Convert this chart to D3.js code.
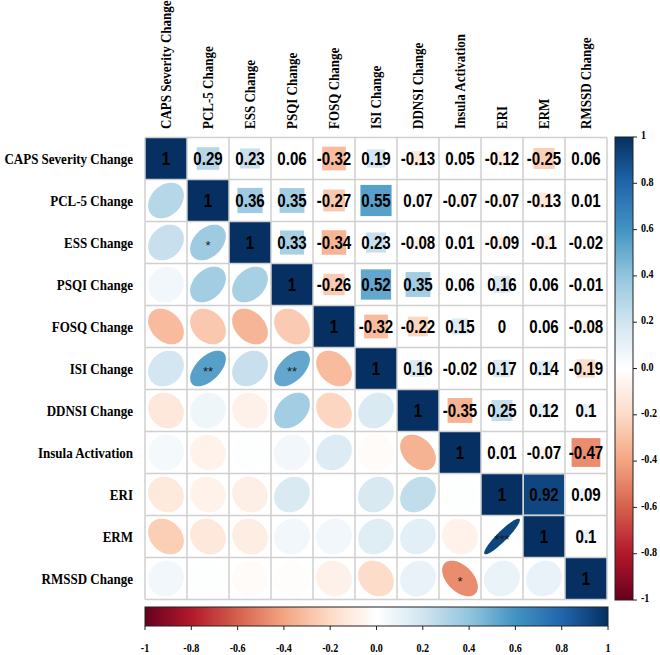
<!DOCTYPE html>
<html>
<head>
<meta charset="utf-8">
<script src="https://cdn.jsdelivr.net/npm/d3@7"></script>
<style>
  html, body { margin: 0; padding: 0; background: #fff; }
  svg { display: block; }
</style>
</head>
<body>
<svg id="chart" width="660" height="655"></svg>
<script>
// ---------- data ----------
const variables = [
  "CAPS Severity Change", "PCL-5 Change", "ESS Change", "PSQI Change",
  "FOSQ Change", "ISI Change", "DDNSI Change", "Insula Activation",
  "ERI", "ERM", "RMSSD Change"
];
// upper triangle rows (from the diagonal to the right)
const rowCAPS   = [1, 0.29, 0.23, 0.06, -0.32, 0.19, -0.13, 0.05, -0.12, -0.25, 0.06];
const rowPCL5   = [1, 0.36, 0.35, -0.27, 0.55, 0.07, -0.07, -0.07, -0.13, 0.01];
const rowESS    = [1, 0.33, -0.34, 0.23, -0.08, 0.01, -0.09, -0.1, -0.02];
const rowPSQI   = [1, -0.26, 0.52, 0.35, 0.06, 0.16, 0.06, -0.01];
const rowFOSQ   = [1, -0.32, -0.22, 0.15, 0, 0.06, -0.08];
const rowISI    = [1, 0.16, -0.02, 0.17, 0.14, -0.19];
const rowDDNSI  = [1, -0.35, 0.25, 0.12, 0.1];
const rowInsula = [1, 0.01, -0.07, -0.47];
const rowERI    = [1, 0.92, 0.09];
const rowERM    = [1, 0.1];
const rowRMSSD  = [1];
const upperRows = [rowCAPS, rowPCL5, rowESS, rowPSQI, rowFOSQ, rowISI,
                   rowDDNSI, rowInsula, rowERI, rowERM, rowRMSSD];
// significance marks in the lower triangle: [row, column, stars]
const significance = [
  ["ESS Change", "PCL-5 Change", "*"],
  ["ISI Change", "PCL-5 Change", "**"],
  ["ISI Change", "PSQI Change", "**"],
  ["ERM", "ERI", "***"],
  ["RMSSD Change", "Insula Activation", "*"]
];
const colorStops = ["#67001F", "#B2182B", "#D6604D", "#F4A582", "#FDDBC7",
                    "#FFFFFF", "#D1E5F0", "#92C5DE", "#4393C3", "#2166AC", "#053061"];
const legendTicks = [-1, -0.8, -0.6, -0.4, -0.2, 0, 0.2, 0.4, 0.6, 0.8, 1];
const legendTickLabels = ["-1", "-0.8", "-0.6", "-0.4", "-0.2", "0.0", "0.2", "0.4", "0.6", "0.8", "1"];

// ---------- build matrix ----------
const n = variables.length;
const M = variables.map(() => new Array(n).fill(0));
upperRows.forEach((row, i) => row.forEach((v, k) => { M[i][i + k] = v; M[i + k][i] = v; }));
const cells = [];
for (let i = 0; i < n; i++) for (let j = 0; j < n; j++)
  cells.push({ row: variables[i], col: variables[j], i, j, r: M[i][j] });

// ---------- scales ----------
const svg = d3.select("#chart");
const x = d3.scaleBand().domain(variables).range([145, 607]);
const y = d3.scaleBand().domain(variables).range([137.5, 599.5]);
const bw = x.bandwidth(), bh = y.bandwidth();
const color = d3.scaleLinear()
  .domain(d3.range(colorStops.length).map(k => -1 + 2 * k / (colorStops.length - 1)))
  .range(colorStops).interpolate(d3.interpolateRgb);

const serif = "'Liberation Serif','Times New Roman',serif";
const sans = "'Liberation Sans',Arial,sans-serif";
const squeeze = 0.84; // glyphs are condensed along the reading direction

// ---------- lower triangle ellipses ----------
function ellipsePath(r, cx, cy) {
  const a = Math.acos(Math.max(-1, Math.min(1, r))) / 2;
  const pts = d3.range(0, 100).map(k => {
    const t = 2 * Math.PI * k / 99;
    return [cx + 0.85 * bw * Math.cos(t + a) / 2, cy - 0.85 * bh * Math.cos(t - a) / 2];
  });
  return d3.line()(pts) + "Z";
}
svg.append("g").selectAll("path")
  .data(cells.filter(d => d.i > d.j))
  .join("path")
  .attr("d", d => ellipsePath(d.r, x(d.col) + bw / 2, y(d.row) + bh / 2))
  .attr("fill", d => color(d.r));

// ---------- upper triangle squares ----------
svg.append("g").selectAll("rect")
  .data(cells.filter(d => d.i <= d.j))
  .join("rect")
  .attr("x", d => x(d.col) + bw / 2 - bw * Math.sqrt(Math.abs(d.r)) / 2)
  .attr("y", d => y(d.row) + bh / 2 - bh * Math.sqrt(Math.abs(d.r)) / 2)
  .attr("width", d => bw * Math.sqrt(Math.abs(d.r)))
  .attr("height", d => bh * Math.sqrt(Math.abs(d.r)))
  .attr("fill", d => color(d.r));

// ---------- grid ----------
const grid = svg.append("g").attr("stroke", "#cfcfcf").attr("stroke-width", 1.5);
grid.selectAll("line.v").data(d3.range(n + 1)).join("line")
  .attr("x1", k => x.range()[0] + k * bw).attr("x2", k => x.range()[0] + k * bw)
  .attr("y1", y.range()[0]).attr("y2", y.range()[1]);
grid.selectAll("line.h").data(d3.range(n + 1)).join("line")
  .attr("y1", k => y.range()[0] + k * bh).attr("y2", k => y.range()[0] + k * bh)
  .attr("x1", x.range()[0]).attr("x2", x.range()[1]);

// ---------- numbers ----------
svg.append("g").selectAll("text")
  .data(cells.filter(d => d.i <= d.j))
  .join("text")
  .attr("transform", d => `translate(${x(d.col) + bw / 2},${y(d.row) + bh / 2 + 6.5}) scale(${squeeze},1)`)
  .attr("text-anchor", "middle")
  .attr("font-family", sans).attr("font-weight", "bold").attr("font-size", 18)
  .attr("fill", "#000")
  .text(d => String(d.r));

// ---------- stars ----------
svg.append("g").selectAll("text")
  .data(significance)
  .join("text")
  .attr("x", d => x(d[1]) + bw / 2)
  .attr("y", d => y(d[0]) + bh / 2 + 7)
  .attr("text-anchor", "middle")
  .attr("font-family", sans).attr("font-size", 13)
  .attr("fill", "#1a1a1a")
  .text(d => d[2]);

// ---------- labels ----------
svg.append("g").selectAll("text")
  .data(variables).join("text")
  .attr("transform", d => `translate(133,${y(d) + bh / 2}) scale(${squeeze},1)`)
  .attr("dy", "0.35em")
  .attr("text-anchor", "end")
  .attr("font-family", serif).attr("font-weight", "bold").attr("font-size", 15.5)
  .text(d => d);
svg.append("g").selectAll("text")
  .data(variables).join("text")
  .attr("transform", d => `translate(${x(d) + bw / 2},129) rotate(-90) scale(${squeeze},1)`)
  .attr("dy", "0.35em")
  .attr("text-anchor", "start")
  .attr("font-family", serif).attr("font-weight", "bold").attr("font-size", 15.5)
  .text(d => d);

// ---------- colour bars ----------
const defs = svg.append("defs");
function gradient(id, x1, y1, x2, y2) {
  const g = defs.append("linearGradient").attr("id", id)
    .attr("x1", x1).attr("y1", y1).attr("x2", x2).attr("y2", y2);
  colorStops.forEach((c, k) => g.append("stop")
    .attr("offset", (k / (colorStops.length - 1) * 100) + "%").attr("stop-color", c));
}
gradient("gv", "0", "1", "0", "0");
gradient("gh", "0", "0", "1", "0");

// right bar
const vScale = d3.scaleLinear().domain([-1, 1]).range([600, 137]);
svg.append("rect").attr("x", 615).attr("y", 137).attr("width", 18).attr("height", 463)
  .attr("fill", "url(#gv)").attr("stroke", "#222").attr("stroke-width", 1);
const vAxis = svg.append("g");
vAxis.selectAll("line").data(legendTicks).join("line")
  .attr("x1", 633).attr("x2", 637).attr("y1", d => vScale(d)).attr("y2", d => vScale(d))
  .attr("stroke", "#222");
vAxis.selectAll("text").data(legendTicks).join("text")
  .attr("transform", d => `translate(641,${vScale(d) - 2}) scale(${squeeze},1)`)
  .attr("dy", "0.35em")
  .attr("font-family", serif).attr("font-weight", "bold").attr("font-size", 12)
  .text((d, k) => legendTickLabels[k]);

// bottom bar
const hScale = d3.scaleLinear().domain([-1, 1]).range([145, 608]);
svg.append("rect").attr("x", 145).attr("y", 607).attr("width", 463).attr("height", 19)
  .attr("fill", "url(#gh)").attr("stroke", "#222").attr("stroke-width", 1);
const hAxis = svg.append("g");
hAxis.selectAll("line").data(legendTicks).join("line")
  .attr("y1", 626).attr("y2", 630).attr("x1", d => hScale(d)).attr("x2", d => hScale(d))
  .attr("stroke", "#222");
hAxis.selectAll("text").data(legendTicks).join("text")
  .attr("transform", d => `translate(${hScale(d)},652) scale(${squeeze},1)`)
  .attr("text-anchor", "middle")
  .attr("font-family", serif).attr("font-weight", "bold").attr("font-size", 12)
  .text((d, k) => legendTickLabels[k]);
</script>
</body>
</html>
